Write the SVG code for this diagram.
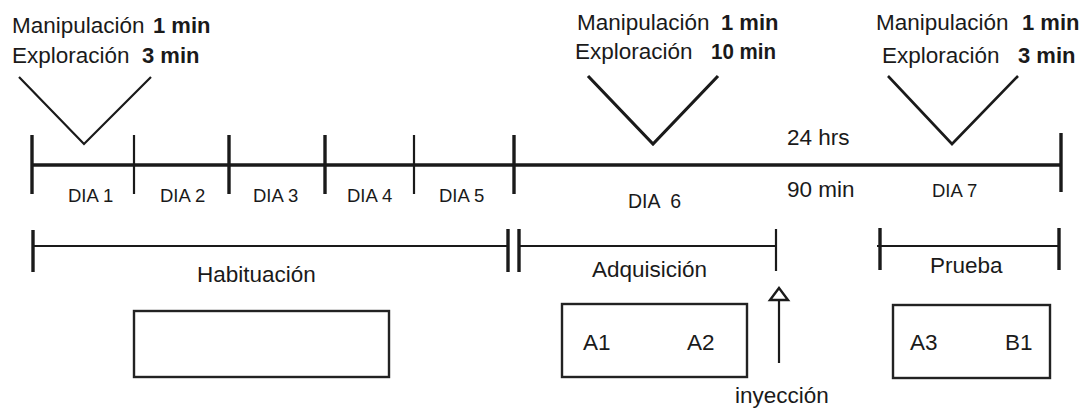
<svg xmlns="http://www.w3.org/2000/svg" width="1083" height="408" viewBox="0 0 1083 408">
<style>
text{font-family:"Liberation Sans",Arial,sans-serif;fill:#1a1a1a}
.t{font-size:22.5px}
.b{font-size:22px;font-weight:bold}
.d{font-size:18.5px}
.ln{stroke:#1a1a1a;fill:none;stroke-linecap:butt}
.thick{stroke-width:3.4}
.thin{stroke-width:2.2}
.box{fill:#fff;stroke:#222;stroke-width:2.4}
</style>
<rect width="1083" height="408" fill="#fff"/>
<g id="connectors">
<line class="ln thick" x1="31" y1="165" x2="1061" y2="165"/>
<line class="ln thick" x1="32" y1="135" x2="32" y2="194"/>
<line class="ln thin" x1="134" y1="135" x2="134" y2="194"/>
<line class="ln thick" x1="229" y1="135" x2="229" y2="194"/>
<line class="ln thick" x1="325" y1="135" x2="325" y2="194"/>
<line class="ln thin" x1="414" y1="135" x2="414" y2="194"/>
<line class="ln thick" x1="514" y1="135" x2="514" y2="194"/>
<line class="ln thick" x1="1061" y1="133" x2="1061" y2="192"/>
<polyline class="ln" stroke-width="2.2" points="19,77 84,144 151,77"/>
<polyline class="ln" stroke-width="3.2" points="588,76 653,144 718,76"/>
<polyline class="ln" stroke-width="2.6" points="888,76 952,144 1018,76"/>
<line class="ln" stroke-width="2.2" x1="33" y1="246" x2="508" y2="246"/>
<line class="ln thick" x1="33" y1="230" x2="33" y2="272"/>
<line class="ln thick" x1="508" y1="229" x2="508" y2="272"/>
<line class="ln thick" x1="519" y1="229" x2="519" y2="272"/>
<line class="ln" stroke-width="2.2" x1="519" y1="246" x2="776" y2="246"/>
<line class="ln thin" x1="776" y1="229" x2="776" y2="271"/>
<line class="ln" stroke-width="2.2" x1="877" y1="246" x2="1059" y2="246"/>
<line class="ln thick" x1="880" y1="228" x2="880" y2="270"/>
<line class="ln thick" x1="1059" y1="228" x2="1059" y2="270"/>
<line class="ln" stroke-width="2.2" x1="779" y1="300" x2="779" y2="363"/>
<polygon points="779,288 770,300 788,300" fill="#fff" stroke="#1a1a1a" stroke-width="2.4" stroke-linejoin="miter"/>
</g>
<g id="top-labels">
<text class="t" x="12" y="33">Manipulación</text><text class="b" x="153" y="33">1 min</text>
<text class="t" x="12" y="63">Exploración</text><text class="b" x="142" y="63">3 min</text>
<text class="t" x="577" y="30">Manipulación</text><text class="b" x="721" y="30">1 min</text>
<text class="t" x="575" y="59">Exploración</text><text class="b" x="711" y="59" textLength="65" lengthAdjust="spacingAndGlyphs">10 min</text>
<text class="t" x="876" y="30">Manipulación</text><text class="b" x="1022" y="30">1 min</text>
<text class="t" x="882" y="63">Exploración</text><text class="b" x="1018" y="63">3 min</text>
<text class="t" x="787" y="145" font-size="23.5">24 hrs</text>
<text class="t" x="787" y="197">90 min</text>
</g>
<g id="days">
<text class="d" x="68" y="202">DIA 1</text>
<text class="d" x="160" y="202">DIA 2</text>
<text class="d" x="253" y="202">DIA 3</text>
<text class="d" x="347" y="202">DIA 4</text>
<text class="d" x="439" y="202">DIA 5</text>
<text class="d" x="628" y="208" xml:space="preserve" style="font-size:19.5px">DIA  6</text>
<text class="d" x="932" y="197">DIA 7</text>
</g>
<g id="habituacion">
<text class="t" x="197" y="282">Habituación</text>
<rect class="box" x="134" y="311" width="255" height="66"/>
</g>
<g id="adquisicion">
<text class="t" x="592" y="277">Adquisición</text>
<rect class="box" x="562" y="304" width="185" height="73"/>
<text class="t" x="583" y="350">A1</text>
<text class="t" x="687" y="350">A2</text>
</g>
<g id="prueba">
<text class="t" x="930" y="273">Prueba</text>
<rect class="box" x="893" y="305" width="157" height="73"/>
<text class="t" x="910" y="350">A3</text>
<text class="t" x="1005" y="350">B1</text>
</g>
<g id="inyeccion">
<text class="t" x="735" y="403">inyección</text>
</g>
</svg>
